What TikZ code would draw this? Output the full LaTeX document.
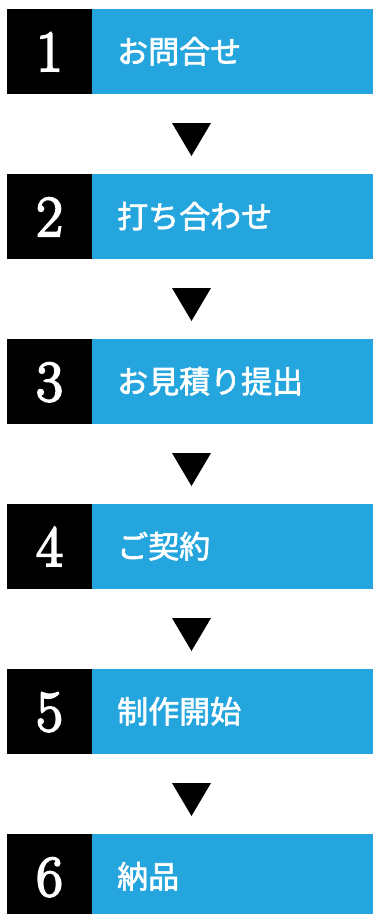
\documentclass[tikz,border=0pt]{standalone}
\usepackage{fontspec}
\newfontfamily\jpfont[FakeBold=2]{Noto Sans CJK JP}
\newfontfamily\numfont[FakeBold=3.5]{Latin Modern Roman}
\definecolor{stepblue}{HTML}{25A5DD}
\begin{document}
\begin{tikzpicture}[x=1pt,y=-1pt,
  numbox/.style={rectangle, fill=black, inner sep=0pt, minimum width=85pt, minimum height=85pt},
  bluebox/.style={rectangle, fill=stepblue, inner sep=0pt, minimum width=281pt, minimum height=85pt},
  numtext/.style={anchor=base, text=white, inner sep=0pt, font=\numfont\fontsize{58}{58}\selectfont},
  steptext/.style={anchor=base west, text=white, inner sep=0pt, font=\jpfont\fontsize{31}{32}\selectfont},
  downmark/.style={fill=black}]
\useasboundingbox (0,0) rectangle (373,914);
\foreach \i/\t [count=\k from 0] in {1/お問合せ,2/打ち合わせ,3/お見積り提出,4/ご契約,5/制作開始,6/納品}{
  \pgfmathsetmacro{\top}{9+165*\k}
  \node[numbox] (n\i) at (49.5,\top+42.5) {};
  \node[bluebox] (b\i) at (232.5,\top+42.5) {};
  \node[numtext] (d\i) at (49.5,\top+62) {\i};
  \node[steptext] (t\i) at (117,\top+54) {\t};
}
\foreach \k in {0,...,4}{
  \pgfmathsetmacro{\top}{9+165*\k}
  \fill[downmark] (172,\top+114) -- (211,\top+114) -- (191.5,\top+147) -- cycle;
}
\end{tikzpicture}
\end{document}
